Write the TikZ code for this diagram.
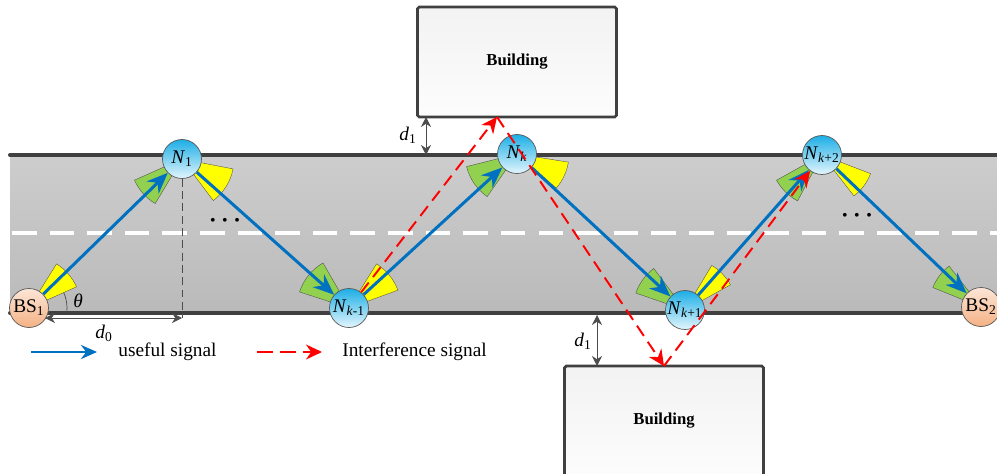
\documentclass[tikz,border=0pt]{standalone}
\usepackage{fontspec}
\setmainfont{Liberation Serif}
\usepackage{xcolor}
\usetikzlibrary{arrows.meta,calc}

\definecolor{sigblue}{HTML}{0070C0}
\definecolor{edgegray}{HTML}{404040}
\definecolor{beamgreen}{HTML}{92D050}
\definecolor{beamyellow}{HTML}{FFFF00}
\definecolor{relaytop}{HTML}{1CAEE6}
\definecolor{relaybot}{HTML}{E4F6FD}
\definecolor{bstop}{HTML}{FCE6D8}
\definecolor{bsbot}{HTML}{F4B183}
\definecolor{roadtop}{HTML}{CDCDCD}
\definecolor{roadbot}{HTML}{BABABA}

\pgfdeclarelayer{back}
\pgfsetlayers{back,main}

\begin{document}
\begin{tikzpicture}[x=0.2mm, y=-0.2mm, font=\fontsize{11}{13}\selectfont,
    relay/.style={circle, draw=gray!70!black, thin, minimum size=7.8mm, inner sep=0pt, top color=relaytop, bottom color=relaybot},
    bs/.style={relay, top color=bstop, bottom color=bsbot},
    building/.style={rectangle, draw=edgegray, line width=1.6pt, rounded corners=1pt, top color=gray!10, bottom color=gray!2, minimum width=39.8mm, minimum height=22mm, font=\fontsize{9.5}{11}\selectfont\bfseries},
    roadline/.style={edgegray, line width=2.3pt, line cap=round},
    useful/.style={-{Stealth[length=4.2mm, width=3.4mm]}, sigblue, line width=1.7pt},
    interf/.style={-{Stealth[length=3.2mm, width=3mm]}, red, line width=1.1pt, dash pattern=on 7pt off 4pt},
    dim/.style={{Stealth[length=2mm, width=2mm]}-{Stealth[length=2mm, width=2mm]}, gray!60!black, thin},
    rxbeam/.style={fill=beamgreen, draw=gray!60!black, very thin},
    txbeam/.style={fill=beamyellow, draw=gray!60!black, very thin}]
    \useasboundingbox (0,0) rectangle (997,474);

    \begin{pgfonlayer}{back}
    \shade[top color=roadtop, bottom color=roadbot] (10,155) rectangle (1000,313);
    \draw[roadline] (10,155) -- (1000,155);
    \draw[roadline] (10,313) -- (1000,313);
    \draw[white, line width=2.1pt, dash pattern=on 14pt off 7.4pt] (12,233) -- (1000,233);
    \end{pgfonlayer}

    \node[building] (bldA) at (517,62) {Building};
    \node[building] (bldB) at (664,421) {Building};

    \node[bs] (bs1) at (29,308) {BS\textsubscript{1}};
    \node[relay] (n1) at (182,159) {\textit{N}\textsubscript{1}};
    \node[relay] (nkm1) at (349,308) {\textit{N}\textsubscript{\textit{k}-1}};
    \node[relay] (nk) at (517,154) {\textit{N}\textsubscript{\textit{k}}};
    \node[relay] (nkp1) at (685,310) {\textit{N}\textsubscript{\textit{k}+1}};
    \node[relay] (nkp2) at (822,155) {\textit{N}\textsubscript{\textit{k}+2}};
    \node[bs] (bs2) at (981,307) {BS\textsubscript{2}};

    \begin{pgfonlayer}{back}
    \draw[thin, gray!60!black] ($(bs1.center)+(-6:7.6mm)$) arc[start angle=-6, end angle=44, radius=7.6mm];
    \foreach \nd/\a/\b in {bs1/24/58, n1/-53/-11, nkm1/20/58, nk/-41/-9, nkp1/29/59, nkp2/-52/-21}
        \draw[txbeam] (\nd.center) -- ++(\a:1.04cm) arc[start angle=\a, end angle=\b, radius=1.04cm] -- cycle;
    \foreach \nd/\a/\b in {n1/204/239, nkm1/120/162, nk/194/235, nkp1/127/161, nkp2/209/242, bs2/128/158}
        \draw[rxbeam] (\nd.center) -- ++(\a:1.04cm) arc[start angle=\a, end angle=\b, radius=1.04cm] -- cycle;
    \end{pgfonlayer}

    \draw[useful] (bs1) -- (n1);
    \draw[useful] (n1) -- (nkm1);
    \draw[useful] (nkm1) -- (nk);
    \draw[useful] (nk) -- (nkp1);
    \draw[useful] (nkp1) -- (nkp2);
    \draw[useful] (nkp2) -- (bs2);

    \coordinate (r1) at (497,117);
    \coordinate (r2) at (664,366);
    \draw[interf] (nkm1) -- (r1);
    \draw[interf] (r1) -- (r2);
    \draw[interf] (r2) -- (nkp2);

    \coordinate (d1a) at (426,117);
    \coordinate (d1b) at (426,155);
    \draw[dim] (d1a) -- (d1b);
    \node (d1top) at (408,135) {\textit{d}\textsubscript{1}};
    \coordinate (d1c) at (597,315);
    \coordinate (d1d) at (597,366);
    \draw[dim] (d1c) -- (d1d);
    \node (d1bot) at (583,341) {\textit{d}\textsubscript{1}};

    \coordinate (d0l) at (45,318);
    \coordinate (d0r) at (182,318);
    \draw[dim] (d0l) -- (d0r);
    \draw[gray!60!black, thin, dash pattern=on 4.5pt off 2.5pt] (n1) -- (d0r);
    \node (d0lab) at (104,333) {\textit{d}\textsubscript{0}};
    \node (theta) at (78,301) {\textit{θ}};

    \node (dotsA) at (225,222) {\fontsize{9}{9}\selectfont\textbullet\hspace{3.8pt}\textbullet\hspace{3.8pt}\textbullet};
    \node (dotsB) at (857,217) {\fontsize{9}{9}\selectfont\textbullet\hspace{3.8pt}\textbullet\hspace{3.8pt}\textbullet};

    \coordinate (lu1) at (31,352);
    \coordinate (lu2) at (97,352);
    \draw[useful, -{Stealth[length=3.2mm, width=2.8mm]}] (lu1) -- (lu2);
    \node[anchor=west, inner sep=0pt] (lutext) at (118,352) {useful signal};
    \coordinate (li1) at (257,352);
    \coordinate (li2) at (322,352);
    \draw[interf, dash pattern=on 9pt off 4pt] (li1) -- (li2);
    \node[anchor=west, inner sep=0pt] (litext) at (342,352) {Interference signal};
\end{tikzpicture}
\end{document}
